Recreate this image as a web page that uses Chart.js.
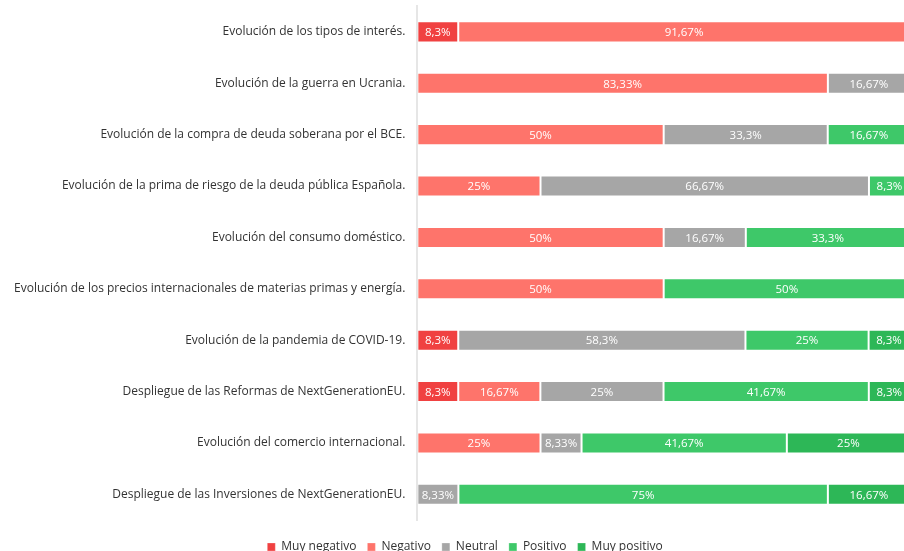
<!DOCTYPE html>
<html>
<head>
<meta charset="utf-8">
<script src="https://cdn.jsdelivr.net/npm/chart.js@4/dist/chart.umd.min.js"></script>
<style>
  html, body { margin:0; padding:0; background:#fff; overflow:hidden; width:904px; height:551px; }
  #wrap { width:930px; height:576px; position:absolute; left:0; top:-13px; }
</style>
</head>
<body>
<div id="wrap"><canvas id="chartFactores"></canvas></div>
<script>
// categorias y series (% de respuestas)
const categorias = [
  'Evolución de los tipos de interés.',
  'Evolución de la guerra en Ucrania.',
  'Evolución de la compra de deuda soberana por el BCE.',
  'Evolución de la prima de riesgo de la deuda pública Española.',
  'Evolución del consumo doméstico.',
  'Evolución de los precios internacionales de materias primas y energía.',
  'Evolución de la pandemia de COVID-19.',
  'Despliegue de las Reformas de NextGenerationEU.',
  'Evolución del comercio internacional.',
  'Despliegue de las Inversiones de NextGenerationEU.'
];
const muyNegativo = [8.3, 0, 0, 0, 0, 0, 8.3, 8.3, 0, 0];
const negativo    = [91.67, 83.33, 50, 25, 50, 50, 0, 16.67, 25, 0];
const neutral     = [0, 16.67, 33.3, 66.67, 16.67, 0, 58.3, 25, 8.33, 8.33];
const positivo    = [0, 0, 16.67, 8.3, 33.3, 50, 25, 41.67, 41.67, 75];
const muyPositivo = [0, 0, 0, 0, 0, 0, 8.3, 8.3, 25, 16.67];

const series = [
  { label:'Muy negativo', data:muyNegativo, color:'#f04141' },
  { label:'Negativo',     data:negativo,    color:'#fe746b' },
  { label:'Neutral',      data:neutral,     color:'#a6a6a6' },
  { label:'Positivo',     data:positivo,    color:'#3ec869' },
  { label:'Muy positivo', data:muyPositivo, color:'#2db757' }
];

const etiquetas = {
  id:'etiquetas',
  afterLayout(chart){
    // la leyenda va algo desplazada a la derecha en el original
    chart.legend.left += 9;
    chart.legend.right += 9;
  },
  afterDatasetsDraw(chart){
    const ctx = chart.ctx;
    ctx.save();
    ctx.font = '11.5px "Open Sans"';
    ctx.fillStyle = '#ffffff';
    ctx.textAlign = 'center';
    ctx.textBaseline = 'middle';
    chart.data.datasets.forEach((ds, i) => {
      chart.getDatasetMeta(i).data.forEach((bar, j) => {
        const v = ds.data[j];
        if(!v) return;
        ctx.fillText(String(v).replace('.', ',') + '%', (bar.x + bar.base) / 2, bar.y + 1);
      });
    });
    ctx.restore();
  }
};

new Chart(document.getElementById('chartFactores').getContext('2d'), {
  type:'bar',
  data:{
    labels:categorias,
    datasets:series.map(s => ({
      label:s.label, data:s.data, backgroundColor:s.color,
      borderColor:'rgba(255,255,255,0.25)', borderWidth:1, borderSkipped:false,
      barPercentage:0.41, categoryPercentage:1
    }))
  },
  options:{
    indexAxis:'y',
    responsive:true,
    maintainAspectRatio:false,
    animation:false,
    layout:{ padding:{ top:0, right:20, left:2, bottom:0 } },
    scales:{
      x:{
        stacked:true, min:0, max:100,
        grid:{ display:false, drawTicks:false },
        border:{ display:false },
        ticks:{ display:false },
        afterFit(scale){ scale.height = 10; }
      },
      y:{
        stacked:true,
        grid:{ display:false, drawTicks:false },
        border:{ display:true, color:'#e6e6e6', width:2 },
        ticks:{ color:'#333333', padding:12, font:{ family:'"Open Sans"', size:12 } }
      }
    },
    plugins:{
      legend:{
        position:'bottom',
        labels:{ boxWidth:8, boxHeight:8, padding:11, color:'#333333', font:{ family:'"Open Sans"', size:12 } }
      },
      tooltip:{ enabled:false }
    }
  },
  plugins:[etiquetas]
});
</script>
</body>
</html>
